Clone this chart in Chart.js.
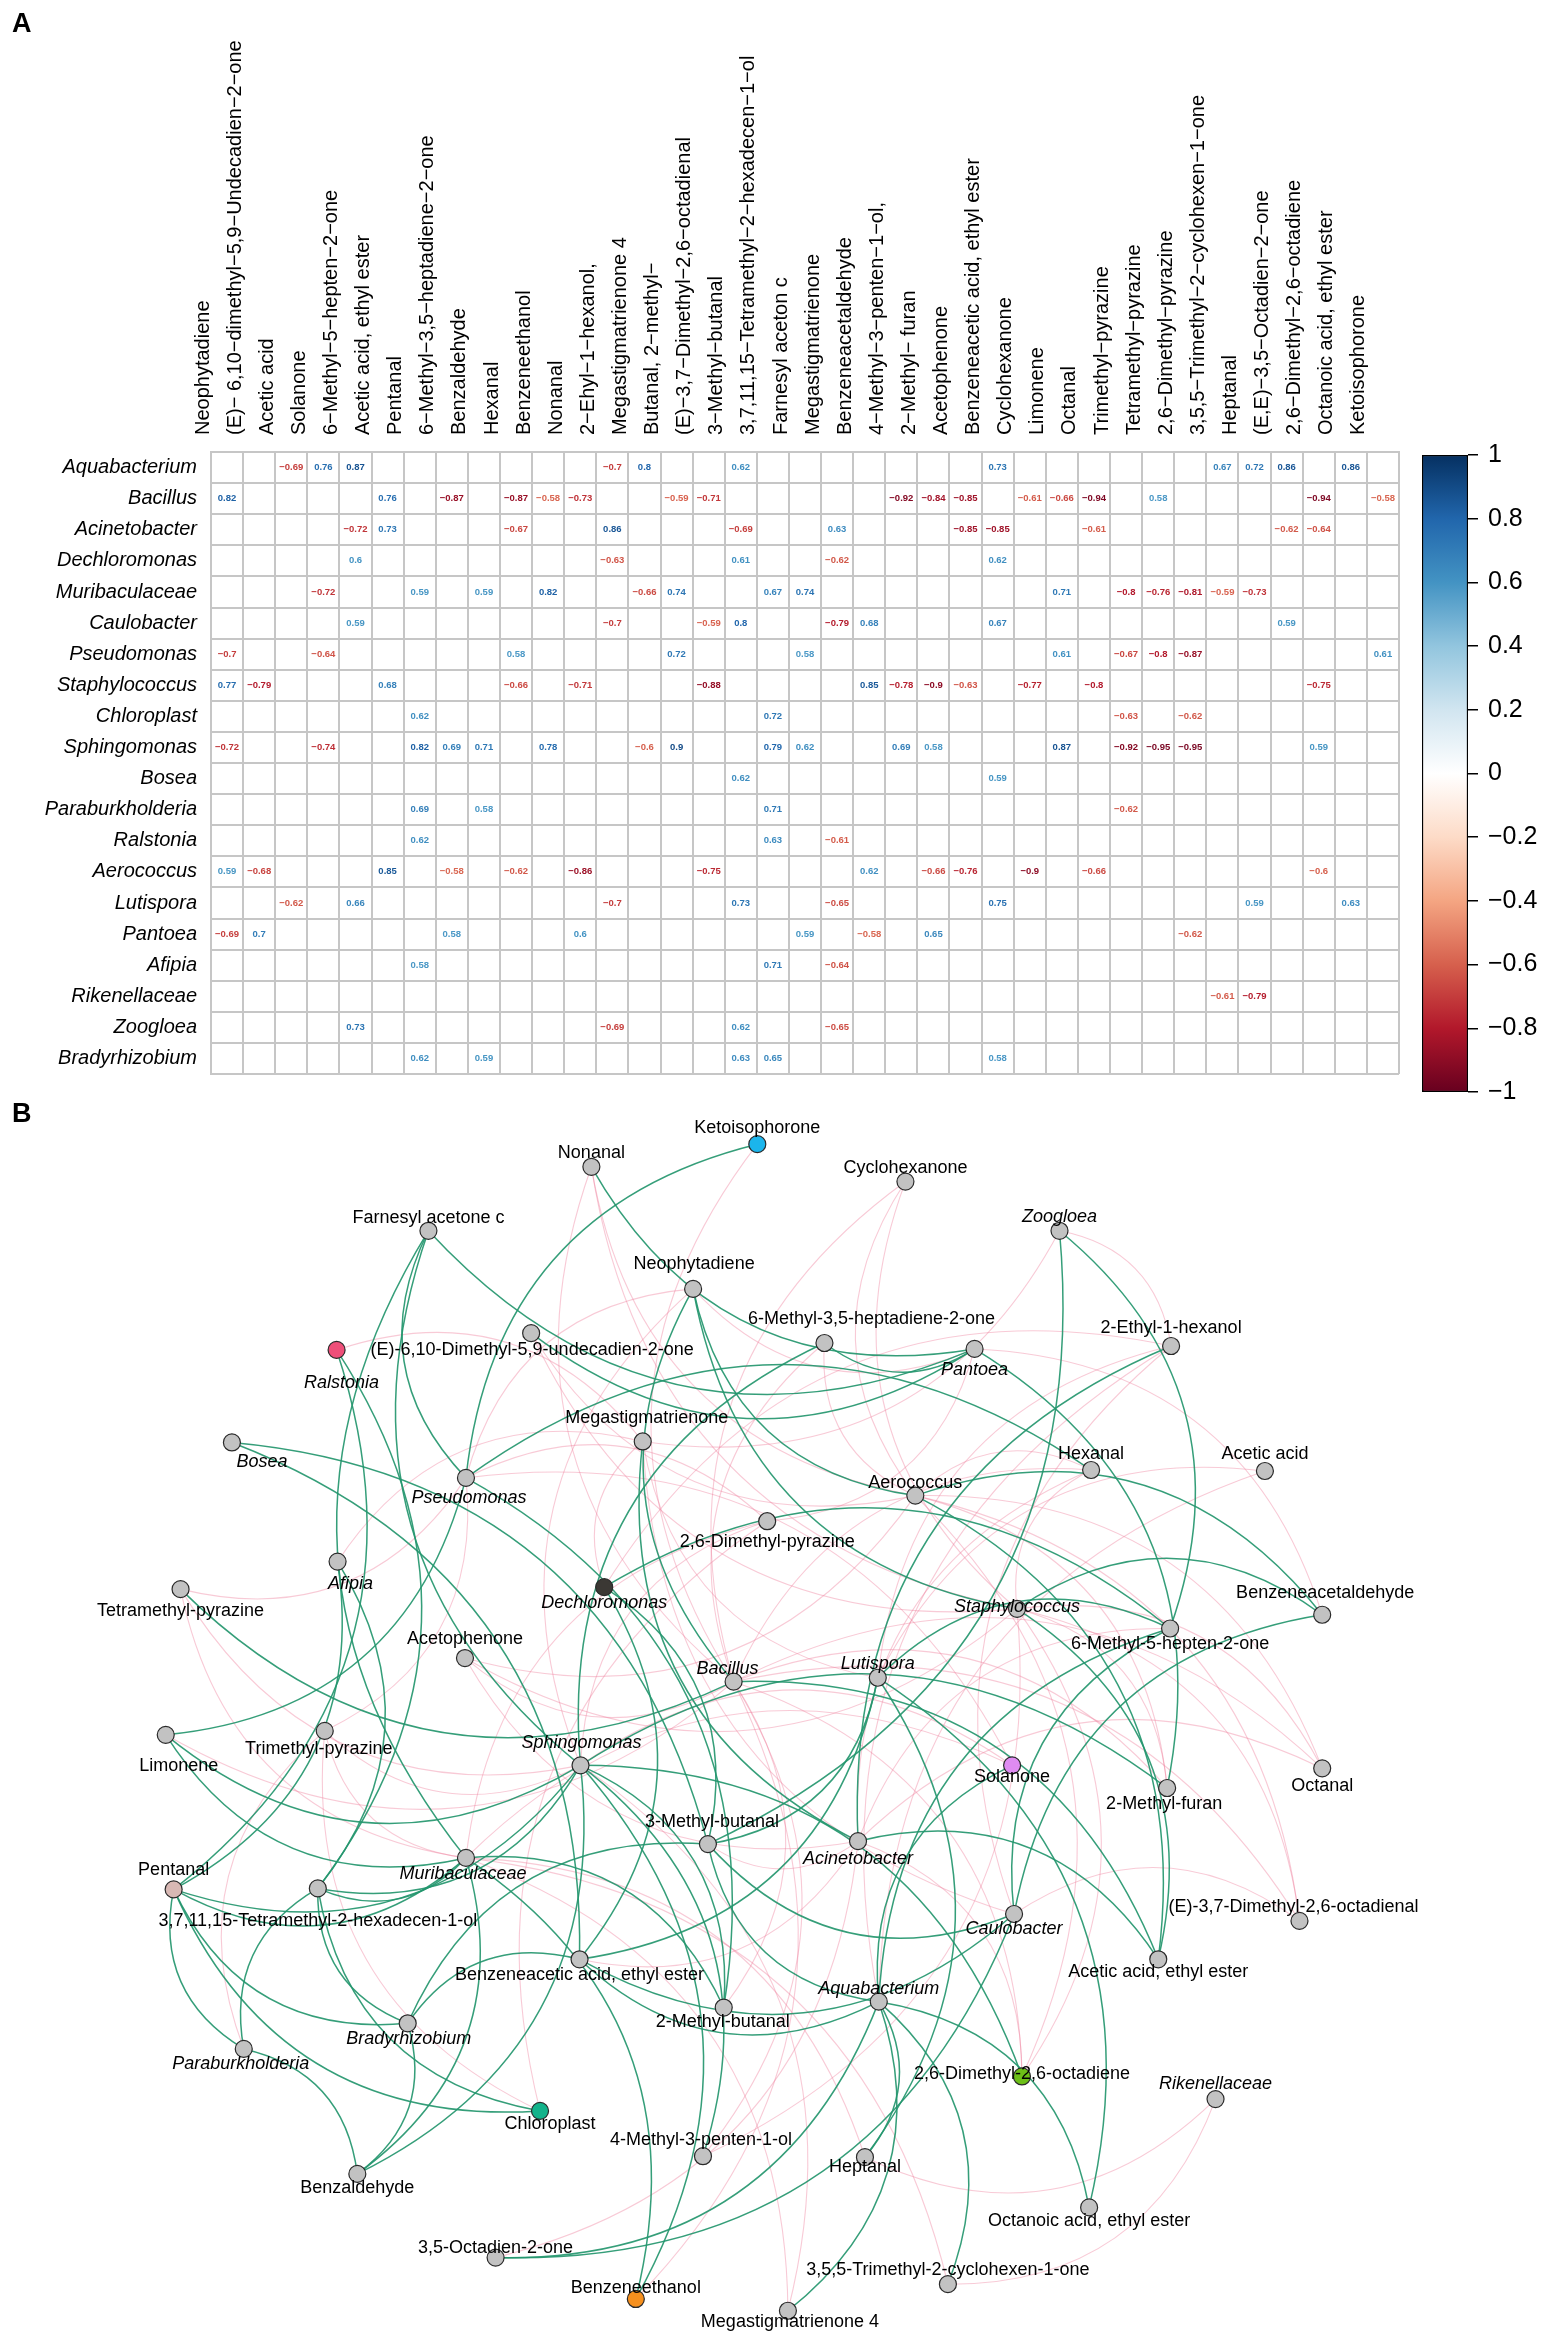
<!DOCTYPE html>
<html>
<head>
<meta charset="utf-8">
<script src="https://cdn.jsdelivr.net/npm/chart.js@4.4.1/dist/chart.umd.min.js"></script>
<style>
  html, body { margin: 0; padding: 0; background: #fff; }
  body { width: 1562px; height: 2350px; position: relative; overflow: hidden; font-family: "Liberation Sans", Arial, sans-serif; }
  canvas { position: absolute; }
  .panel { position: absolute; left: 12px; font-weight: bold; font-size: 27px; line-height: 1; z-index: 5; }
</style>
</head>
<body>
<canvas id="heat" width="1562" height="1100" style="left:0;top:0"></canvas>
<canvas id="bar" width="162" height="690" style="left:1400px;top:430px"></canvas>
<canvas id="net" width="1562" height="1250" style="left:0;top:1100px"></canvas>
<div class="panel" style="top:10px">A</div>
<div class="panel" style="top:1100px">B</div>
<script>
// rows of the heatmap = nodes of the network
const taxa = ['Aquabacterium', 'Bacillus', 'Acinetobacter', 'Dechloromonas', 'Muribaculaceae',
  'Caulobacter', 'Pseudomonas', 'Staphylococcus', 'Chloroplast', 'Sphingomonas', 'Bosea',
  'Paraburkholderia', 'Ralstonia', 'Aerococcus', 'Lutispora', 'Pantoea', 'Afipia',
  'Rikenellaceae', 'Zoogloea', 'Bradyrhizobium']

// heatmap column names (as printed on the heatmap)
const compounds = ['Neophytadiene', '(E)\u2212 6,10\u2212dimethyl\u22125,9\u2212Undecadien\u22122\u2212one',
  'Acetic acid', 'Solanone', '6\u2212Methyl\u22125\u2212hepten\u22122\u2212one', 'Acetic acid, ethyl ester',
  'Pentanal', '6\u2212Methyl\u22123,5\u2212heptadiene\u22122\u2212one', 'Benzaldehyde', 'Hexanal',
  'Benzeneethanol', 'Nonanal', '2\u2212Ehyl\u22121\u2212hexanol,', 'Megastigmatrienone 4',
  'Butanal, 2\u2212methyl\u2212', '(E)\u22123,7\u2212Dimethyl\u22122,6\u2212octadienal', '3\u2212Methyl\u2212butanal',
  '3,7,11,15\u2212Tetramethyl\u22122\u2212hexadecen\u22121\u2212ol', 'Farnesyl aceton c', 'Megastigmatrienone',
  'Benzeneacetaldehyde', '4\u2212Methyl\u22123\u2212penten\u22121\u2212ol,', '2\u2212Methyl\u2212 furan',
  'Acetophenone', 'Benzeneacetic acid, ethyl ester', 'Cyclohexanone', 'Limonene', 'Octanal',
  'Trimethyl\u2212pyrazine', 'Tetramethyl\u2212pyrazine', '2,6\u2212Dimethyl\u2212pyrazine',
  '3,5,5\u2212Trimethyl\u22122\u2212cyclohexen\u22121\u2212one', 'Heptanal', '(E,E)\u22123,5\u2212Octadien\u22122\u2212one',
  '2,6\u2212Dimethyl\u22122,6\u2212octadiene', 'Octanoic acid, ethyl ester', 'Ketoisophorone']

// same compounds, as named in the network
const compoundNames = ['Neophytadiene', '(E)-6,10-Dimethyl-5,9-undecadien-2-one', 'Acetic acid', 'Solanone',
  '6-Methyl-5-hepten-2-one', 'Acetic acid, ethyl ester', 'Pentanal', '6-Methyl-3,5-heptadiene-2-one',
  'Benzaldehyde', 'Hexanal', 'Benzeneethanol', 'Nonanal', '2-Ethyl-1-hexanol', 'Megastigmatrienone 4',
  '2-Methyl-butanal', '(E)-3,7-Dimethyl-2,6-octadienal', '3-Methyl-butanal',
  '3,7,11,15-Tetramethyl-2-hexadecen-1-ol', 'Farnesyl acetone c', 'Megastigmatrienone',
  'Benzeneacetaldehyde', '4-Methyl-3-penten-1-ol', '2-Methyl-furan', 'Acetophenone',
  'Benzeneacetic acid, ethyl ester', 'Cyclohexanone', 'Limonene', 'Octanal', 'Trimethyl-pyrazine',
  'Tetramethyl-pyrazine', '2,6-Dimethyl-pyrazine', '3,5,5-Trimethyl-2-cyclohexen-1-one', 'Heptanal',
  '3,5-Octadien-2-one', '2,6-Dimethyl-2,6-octadiene', 'Octanoic acid, ethyl ester', 'Ketoisophorone']

// significant correlations, one row per taxon, one entry per compound (_ = not shown)
const _ = null
const rValues = [
  [_, _, -0.69, 0.76, 0.87, _, _, _, _, _,  _, _, -0.7, 0.8, _, _, 0.62, _, _, _,  _, _, _, _, 0.73, _, _, _, _, _,  _, 0.67, 0.72, 0.86, _, 0.86, _],
  [0.82, _, _, _, _, 0.76, _, -0.87, _, -0.87,  -0.58, -0.73, _, _, -0.59, -0.71, _, _, _, _,  _, -0.92, -0.84, -0.85, _, -0.61, -0.66, -0.94, _, 0.58,  _, _, _, _, -0.94, _, -0.58],
  [_, _, _, _, -0.72, 0.73, _, _, _, -0.67,  _, _, 0.86, _, _, _, -0.69, _, _, 0.63,  _, _, _, -0.85, -0.85, _, _, -0.61, _, _,  _, _, _, -0.62, -0.64, _, _],
  [_, _, _, _, 0.6, _, _, _, _, _,  _, _, -0.63, _, _, _, 0.61, _, _, -0.62,  _, _, _, _, 0.62, _, _, _, _, _,  _, _, _, _, _, _, _],
  [_, _, _, -0.72, _, _, 0.59, _, 0.59, _,  0.82, _, _, -0.66, 0.74, _, _, 0.67, 0.74, _,  _, _, _, _, _, _, 0.71, _, -0.8, -0.76,  -0.81, -0.59, -0.73, _, _, _, _],
  [_, _, _, _, 0.59, _, _, _, _, _,  _, _, -0.7, _, _, -0.59, 0.8, _, _, -0.79,  0.68, _, _, _, 0.67, _, _, _, _, _,  _, _, _, 0.59, _, _, _],
  [-0.7, _, _, -0.64, _, _, _, _, _, 0.58,  _, _, _, _, 0.72, _, _, _, 0.58, _,  _, _, _, _, _, _, 0.61, _, -0.67, -0.8,  -0.87, _, _, _, _, _, 0.61],
  [0.77, -0.79, _, _, _, 0.68, _, _, _, -0.66,  _, -0.71, _, _, _, -0.88, _, _, _, _,  0.85, -0.78, -0.9, -0.63, _, -0.77, _, -0.8, _, _,  _, _, _, _, -0.75, _, _],
  [_, _, _, _, _, _, 0.62, _, _, _,  _, _, _, _, _, _, _, 0.72, _, _,  _, _, _, _, _, _, _, _, -0.63, _,  -0.62, _, _, _, _, _, _],
  [-0.72, _, _, -0.74, _, _, 0.82, 0.69, 0.71, _,  0.78, _, _, -0.6, 0.9, _, _, 0.79, 0.62, _,  _, 0.69, 0.58, _, _, _, 0.87, _, -0.92, -0.95,  -0.95, _, _, _, 0.59, _, _],
  [_, _, _, _, _, _, _, _, _, _,  _, _, _, _, _, _, 0.62, _, _, _,  _, _, _, _, 0.59, _, _, _, _, _,  _, _, _, _, _, _, _],
  [_, _, _, _, _, _, 0.69, _, 0.58, _,  _, _, _, _, _, _, _, 0.71, _, _,  _, _, _, _, _, _, _, _, -0.62, _,  _, _, _, _, _, _, _],
  [_, _, _, _, _, _, 0.62, _, _, _,  _, _, _, _, _, _, _, 0.63, _, -0.61,  _, _, _, _, _, _, _, _, _, _,  _, _, _, _, _, _, _],
  [0.59, -0.68, _, _, _, 0.85, _, -0.58, _, -0.62,  _, -0.86, _, _, _, -0.75, _, _, _, _,  0.62, _, -0.66, -0.76, _, -0.9, _, -0.66, _, _,  _, _, _, _, -0.6, _, _],
  [_, _, -0.62, _, 0.66, _, _, _, _, _,  _, _, -0.7, _, _, _, 0.73, _, _, -0.65,  _, _, _, _, 0.75, _, _, _, _, _,  _, _, 0.59, _, _, 0.63, _],
  [-0.69, 0.7, _, _, _, _, _, 0.58, _, _,  _, 0.6, _, _, _, _, _, _, 0.59, _,  -0.58, _, 0.65, _, _, _, _, _, _, _,  -0.62, _, _, _, _, _, _],
  [_, _, _, _, _, _, 0.58, _, _, _,  _, _, _, _, _, _, _, 0.71, _, -0.64,  _, _, _, _, _, _, _, _, _, _,  _, _, _, _, _, _, _],
  [_, _, _, _, _, _, _, _, _, _,  _, _, _, _, _, _, _, _, _, _,  _, _, _, _, _, _, _, _, _, _,  _, -0.61, -0.79, _, _, _, _],
  [_, _, _, _, 0.73, _, _, _, _, _,  _, _, -0.69, _, _, _, 0.62, _, _, -0.65,  _, _, _, _, _, _, _, _, _, _,  _, _, _, _, _, _, _],
  [_, _, _, _, _, _, 0.62, _, 0.59, _,  _, _, _, _, _, _, 0.63, 0.65, _, _,  _, _, _, _, 0.58, _, _, _, _, _,  _, _, _, _, _, _, _]
]

// colour key
const barTicks = [1, 0.8, 0.6, 0.4, 0.2, 0, -0.2, -0.4, -0.6, -0.8, -1]

// network layout (page pixels)
const taxaX = [880, 733, 859, 602, 462, 1017, 462, 1020, 537, 578, 225, 237, 331, 917, 879, 977, 332, 1221, 1063, 403]
const taxaY = [2006, 1681, 1843, 1585, 1860, 1917, 1474, 1607, 2117, 1766, 1438, 2054, 1344, 1492, 1677, 1343, 1559, 2105, 1223, 2028]
const compX = [692, 528, 1271, 1015, 1175, 1163, 166, 825, 352, 1095, 634, 589, 1176, 788, 723, 1306, 707, 312, 424,
  641, 1329, 702, 1172, 461, 577, 907, 158, 1329, 319, 173, 767, 950, 866, 492, 1025, 1093, 757]
const compY = [1282, 1327, 1467, 1766, 1627, 1963, 1892, 1337, 2181, 1466, 2308, 1158, 1340, 2320, 2012, 1924, 1846,
  1891, 1223, 1437, 1613, 2163, 1789, 1657, 1963, 1173, 1735, 1769, 1731, 1587, 1518, 2293, 2164, 2266, 2082, 2215, 1135]

// ---- styling ----
const FONT = '"Liberation Sans", Arial, sans-serif'
const rdbuStops = [
  [-1, '#67001F'], [-0.8, '#B2182B'], [-0.6, '#D6604D'], [-0.4, '#F4A582'], [-0.2, '#FDDBC7'], [0, '#FFFFFF'],
  [0.2, '#D1E5F0'], [0.4, '#92C5DE'], [0.6, '#4393C3'], [0.8, '#2166AC'], [1, '#053061']
]
function hexRgb(h) { return [1, 3, 5].map(i => parseInt(h.substr(i, 2), 16)) }
function rdbu(v) {
  for (let i = 0; i < rdbuStops.length - 1; i++) {
    const [a, ca] = rdbuStops[i], [b, cb] = rdbuStops[i + 1]
    if (v >= a && v <= b) {
      const t = (v - a) / (b - a), p = hexRgb(ca), q = hexRgb(cb)
      return 'rgb(' + p.map((c, k) => Math.round(c + (q[k] - c) * t)).join(',') + ')'
    }
  }
  return '#000'
}
const minus = s => String(s).replace('-', '\u2212')

const taxaFill = { 3: '#3b3834', 8: '#13b38b', 12: '#ee4f79' }
const compFill = { 3: '#df8bf2', 6: '#d8b8b4', 10: '#f6901e', 34: '#6cbf17', 36: '#1bb5ec' }
const uprightTaxa = ['Aerococcus', 'Chloroplast']
// label offset from its node, px
const taxaLabelOff = [[0, -13], [-6, -13], [0, 18], [0, 16], [-3, 16], [0, 15], [3, 20], [0, -2], [10, 13], [1, -22],
  [30, 20], [-3, 15], [5, 33], [0, -13], [0, -14], [0, 21], [13, 22], [0, -15], [0, -14], [1, 16]]
const compLabelOff = [[1, -25], [1, 17], [0, -17], [0, 12], [0, 16], [0, 13], [0, -19], [47, -24], [0, 14], [0, -16],
  [0, -11], [0, -14], [0, -18], [2, 11], [-1, 14], [-6, -14], [4, -22], [0, 33], [0, -13], [4, -23], [3, -22],
  [-2, -16], [-3, 16], [0, -19], [0, 16], [0, -14], [13, 31], [0, 18], [-6, 18], [0, 22], [0, 21], [0, -14],
  [0, 10], [0, -10], [0, -2], [0, 14], [0, -16]]

// ---- A: heatmap ----
const cells = []
rValues.forEach((row, i) => row.forEach((v, j) => {
  if (v !== null) cells.push({ x: compounds[j], y: taxa[i], v: v })
}))

const cellText = {
  id: 'cellText',
  afterDatasetsDraw(chart) {
    const ctx = chart.ctx
    ctx.save()
    ctx.font = 'bold 9.5px "Liberation Sans Narrow", ' + FONT
    ctx.textAlign = 'center'
    ctx.textBaseline = 'middle'
    chart.getDatasetMeta(0).data.forEach((pt, k) => {
      ctx.fillStyle = rdbu(cells[k].v)
      ctx.fillText(minus(cells[k].v), pt.x, pt.y)
    })
    ctx.restore()
  }
}

const gridStyle = { offset: true, color: '#c6c6c6', lineWidth: 2, drawTicks: false }

new Chart(document.getElementById('heat'), {
  type: 'scatter',
  data: { datasets: [{ data: cells, pointRadius: 0 }] },
  options: {
    responsive: false,
    animation: false,
    events: [],
    layout: { padding: { left: 0, top: 0, right: 163, bottom: 5 } },
    plugins: { legend: { display: false }, tooltip: { enabled: false } },
    scales: {
      x: {
        type: 'category', labels: compounds, position: 'top', offset: true,
        grid: gridStyle, border: { display: true, color: '#c6c6c6', width: 2 },
        ticks: { autoSkip: false, minRotation: 90, maxRotation: 90, padding: 17, color: '#000', font: { family: FONT, size: 20 } },
        afterFit(s) { s.height = 452 }
      },
      y: {
        type: 'category', labels: taxa, offset: true,
        grid: gridStyle, border: { display: true, color: '#c6c6c6', width: 2 },
        ticks: { autoSkip: false, padding: 14, color: '#000', font: { family: FONT, size: 20, style: 'italic' } },
        afterFit(s) { s.width = 211 }
      }
    }
  },
  plugins: [cellText]
})

// colour bar
new Chart(document.getElementById('bar'), {
  type: 'bar',
  data: {
    labels: [''],
    datasets: [{
      data: [[-1, 1]],
      barPercentage: 1, categoryPercentage: 1,
      borderColor: '#000', borderWidth: 1.5, borderSkipped: false,
      backgroundColor(c) {
        const area = c.chart.chartArea
        if (!area) return '#fff'
        const g = c.chart.ctx.createLinearGradient(0, area.bottom, 0, area.top)
        rdbuStops.forEach(([v, col]) => g.addColorStop((v + 1) / 2, col))
        return g
      }
    }]
  },
  options: {
    responsive: false,
    animation: false,
    events: [],
    layout: { padding: { left: 22, top: 22, right: 0, bottom: 28 } },
    plugins: { legend: { display: false }, tooltip: { enabled: false } },
    scales: {
      x: { display: false },
      y: {
        position: 'right', min: -1, max: 1,
        afterBuildTicks(s) { s.ticks = barTicks.map(v => ({ value: v })) },
        grid: { drawOnChartArea: false, color: '#000', lineWidth: 1.5, tickLength: 10 },
        border: { display: false },
        ticks: { padding: 10, color: '#000', font: { family: FONT, size: 25 }, callback: v => minus(v) },
        afterFit(s) { s.width = 94 }
      }
    }
  }
})

// ---- B: network ----
const edges = {
  id: 'edges',
  beforeDatasetsDraw(chart) {
    const ctx = chart.ctx
    const tNodes = chart.getDatasetMeta(0).data
    const cNodes = chart.getDatasetMeta(1).data
    const bend = 0.35
    ctx.save()
    ;[false, true].forEach(positive => {
      ctx.strokeStyle = positive ? 'rgba(36,150,110,0.92)' : 'rgba(238,128,158,0.42)'
      ctx.lineWidth = positive ? 1.5 : 1.1
      rValues.forEach((row, i) => row.forEach((v, j) => {
        if (v === null || (v > 0) !== positive) return
        const b = tNodes[i], c = cNodes[j]
        const dx = c.x - b.x, dy = c.y - b.y
        ctx.beginPath()
        ctx.moveTo(b.x, b.y)
        ctx.quadraticCurveTo((b.x + c.x) / 2 + bend * dy, (b.y + c.y) / 2 - bend * dx, c.x, c.y)
        ctx.stroke()
      }))
    })
    ctx.restore()
  }
}

const nodeLabels = {
  id: 'nodeLabels',
  afterDatasetsDraw(chart) {
    const ctx = chart.ctx
    ctx.save()
    ctx.fillStyle = '#000'
    ctx.textAlign = 'center'
    ctx.textBaseline = 'middle'
    chart.getDatasetMeta(0).data.forEach((pt, i) => {
      ctx.font = (uprightTaxa.includes(taxa[i]) ? '' : 'italic ') + '18px ' + FONT
      ctx.fillText(taxa[i], pt.x + taxaLabelOff[i][0], pt.y + taxaLabelOff[i][1])
    })
    ctx.font = '18px ' + FONT
    chart.getDatasetMeta(1).data.forEach((pt, j) => {
      ctx.fillText(compoundNames[j], pt.x + compLabelOff[j][0], pt.y + compLabelOff[j][1])
    })
    ctx.restore()
  }
}

const nodeStyle = { pointRadius: 8.5, pointBorderColor: '#2a2a2a', pointBorderWidth: 1.2, clip: false }

new Chart(document.getElementById('net'), {
  type: 'scatter',
  data: {
    datasets: [
      Object.assign({
        data: taxa.map((t, i) => ({ x: taxaX[i], y: taxaY[i] })),
        pointBackgroundColor: taxa.map((t, i) => taxaFill[i] || '#c2c2c2')
      }, nodeStyle),
      Object.assign({
        data: compoundNames.map((c, j) => ({ x: compX[j], y: compY[j] })),
        pointBackgroundColor: compoundNames.map((c, j) => compFill[j] || '#c2c2c2')
      }, nodeStyle)
    ]
  },
  options: {
    responsive: false,
    animation: false,
    events: [],
    layout: { padding: 0 },
    plugins: { legend: { display: false }, tooltip: { enabled: false } },
    scales: {
      x: { type: 'linear', min: 0, max: 1562, display: false },
      y: { type: 'linear', min: 1100, max: 2350, reverse: true, display: false }
    }
  },
  plugins: [edges, nodeLabels]
})
</script>
</body>
</html>
